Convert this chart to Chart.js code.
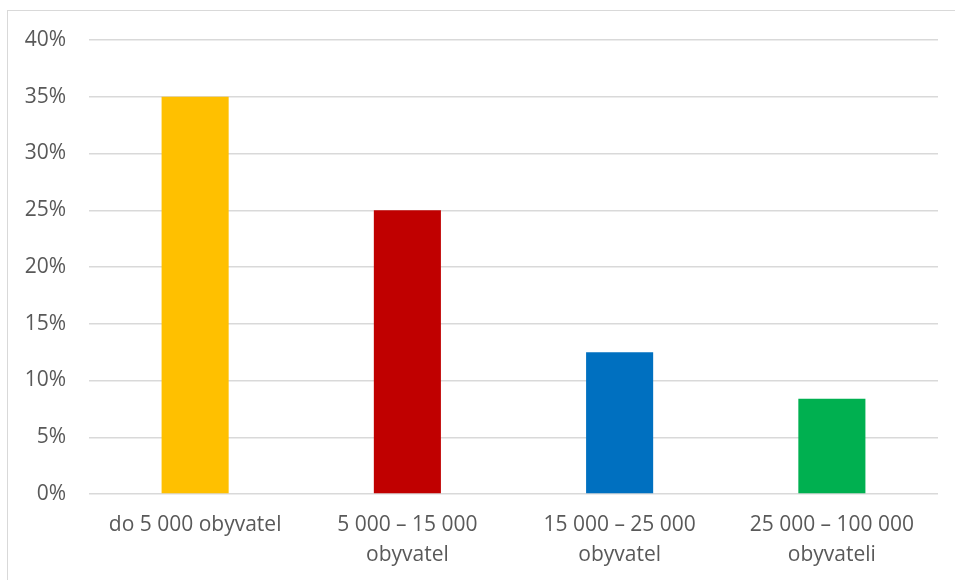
<html>
<script src="https://cdn.jsdelivr.net/npm/chart.js@4.4.0/dist/chart.umd.min.js"></script>
<style>
  body { margin: 0; background: white; overflow: hidden; }
  #frame {
    position: absolute; left: 7px; top: 10px;
    width: 1100px; height: 700px;
    border: 1.5px solid #d9d9d9;
  }
  #wrap { position: absolute; left: 0; top: 0; width: 955px; height: 580px; }
</style>
<body>
  <div id="frame"></div>
  <div id="wrap"><canvas id="popChart"></canvas></div>
</body>
<script>
  // categories and shares (in %)
  var categories = [
    "do 5 000 obyvatel",
    ["5 000 \u2013 15 000", "obyvatel"],
    ["15 000 \u2013 25 000", "obyvatel"],
    ["25 000 \u2013 100 000", "obyvateli"]
  ];
  var shares = [35, 25, 12.5, 8.4];
  var barColors = ["#ffc000", "#c00000", "#0070c0", "#00b050"];
  var yTicks = [0, 5, 10, 15, 20, 25, 30, 35, 40];

  var textCol = "#595959";
  var fontSpec = { family: "'Open Sans', 'Liberation Sans', sans-serif", size: 21, lineHeight: 1.43 };

  var ctx = document.getElementById('popChart');
  var chart = new Chart(ctx, {
    type: "bar",
    data: {
      labels: categories,
      datasets: [{
        data: shares,
        backgroundColor: barColors,
        categoryPercentage: 1.0,
        barPercentage: 0.316
      }]
    },
    options: {
      responsive: true,
      maintainAspectRatio: false,
      animation: false,
      layout: { padding: { top: 40, right: 17, left: 0, bottom: 0 } },
      plugins: { legend: { display: false }, tooltip: { enabled: false } },
      scales: {
        x: {
          grid: { display: false },
          border: { display: false },
          ticks: { color: textCol, font: fontSpec, padding: 8, maxRotation: 0 },
          afterFit: function(scale) { scale.height = 86; }
        },
        y: {
          min: 0,
          max: 40,
          afterBuildTicks: function(scale) {
            scale.ticks = yTicks.map(function(v) { return { value: v }; });
          },
          grid: { color: "#d9d9d9", lineWidth: 1.5, drawTicks: false },
          border: { display: false },
          ticks: {
            color: textCol, font: fontSpec, padding: 23,
            callback: function(v) { return v + "%"; }
          },
          afterFit: function(scale) { scale.width = 89; }
        }
      }
    }
  });
</script>
</html>
